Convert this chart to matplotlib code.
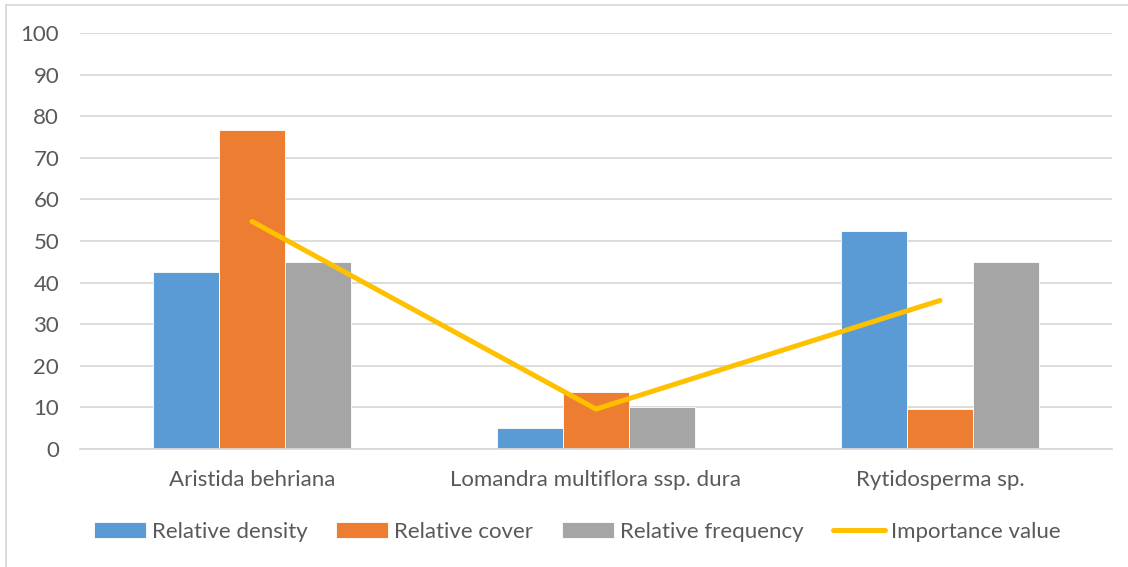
import matplotlib
matplotlib.use("Agg")
import matplotlib.pyplot as plt
import numpy as np
from matplotlib.lines import Line2D

species = ["Aristida behriana", "Lomandra multiflora ssp. dura", "Rytidosperma sp."]
relative_density = [42.5, 5.0, 52.5]
relative_cover = [76.6, 13.7, 9.6]
relative_frequency = [45.0, 10.0, 45.0]
importance_value = [54.7, 9.6, 35.7]
y_ticks = [0, 10, 20, 30, 40, 50, 60, 70, 80, 90, 100]

colors = ["#5B9BD5", "#ED7D31", "#A5A5A5"]
line_color = "#FFC000"
text_color = "#595959"
grid_color = "#D9D9D9"

plt.rcParams["font.family"] = ["Lato", "DejaVu Sans"]
fs = 16

W, H = 1128, 567
fig = plt.figure(figsize=(W / 100, H / 100), dpi=100)
ax = fig.add_axes([80 / W, 1 - 449 / H, (1112 - 80) / W, (449 - 33) / H])

x = np.arange(len(species))
bw = 0.192
series = [("Relative density", relative_density),
          ("Relative cover", relative_cover),
          ("Relative frequency", relative_frequency)]
handles = []
for i, (name, vals) in enumerate(series):
    b = ax.bar(x + (i - 1) * bw, vals, width=bw, color=colors[i],
               edgecolor="white", linewidth=0.6, label=name, zorder=2)
    handles.append(b)
ax.plot(x, importance_value, color=line_color, linewidth=3.6,
        solid_capstyle="round", zorder=3, label="Importance value")

ax.set_xlim(-0.5, 2.5)
ax.set_ylim(0, 100)
ax.set_yticks(y_ticks)
ax.set_xticks(x)
ax.set_xticklabels(species)
ax.grid(axis="y", color=grid_color, linewidth=1.3, zorder=0)
ax.set_axisbelow(True)
for s in ["top", "right", "left"]:
    ax.spines[s].set_visible(False)
ax.spines["bottom"].set_color(grid_color)
ax.spines["bottom"].set_linewidth(1.3)
ax.tick_params(axis="both", length=0, labelsize=fs, colors=text_color)
ax.tick_params(axis="y", pad=15)
ax.tick_params(axis="x", pad=15)

leg_handles = handles + [Line2D([0], [0], color=line_color, linewidth=3.6, solid_capstyle="round")]
leg = fig.legend(leg_handles, [s[0] for s in series] + ["Importance value"],
                 loc="center", bbox_to_anchor=(577 / W, 1 - 532 / H), ncol=4,
                 frameon=False, fontsize=fs, handlelength=2.34, handleheight=0.72,
                 handletextpad=0.27, columnspacing=1.3)
for t in leg.get_texts():
    t.set_color(text_color)

# outer chart frame
fig.add_artist(Line2D([6 / W, 6 / W], [0, 1 - 5 / H], color=grid_color, linewidth=1.3,
                      transform=fig.transFigure))
fig.add_artist(Line2D([6 / W, 1], [1 - 5 / H, 1 - 5 / H], color=grid_color, linewidth=1.3,
                      transform=fig.transFigure))

fig.savefig("out.png", dpi=100)
